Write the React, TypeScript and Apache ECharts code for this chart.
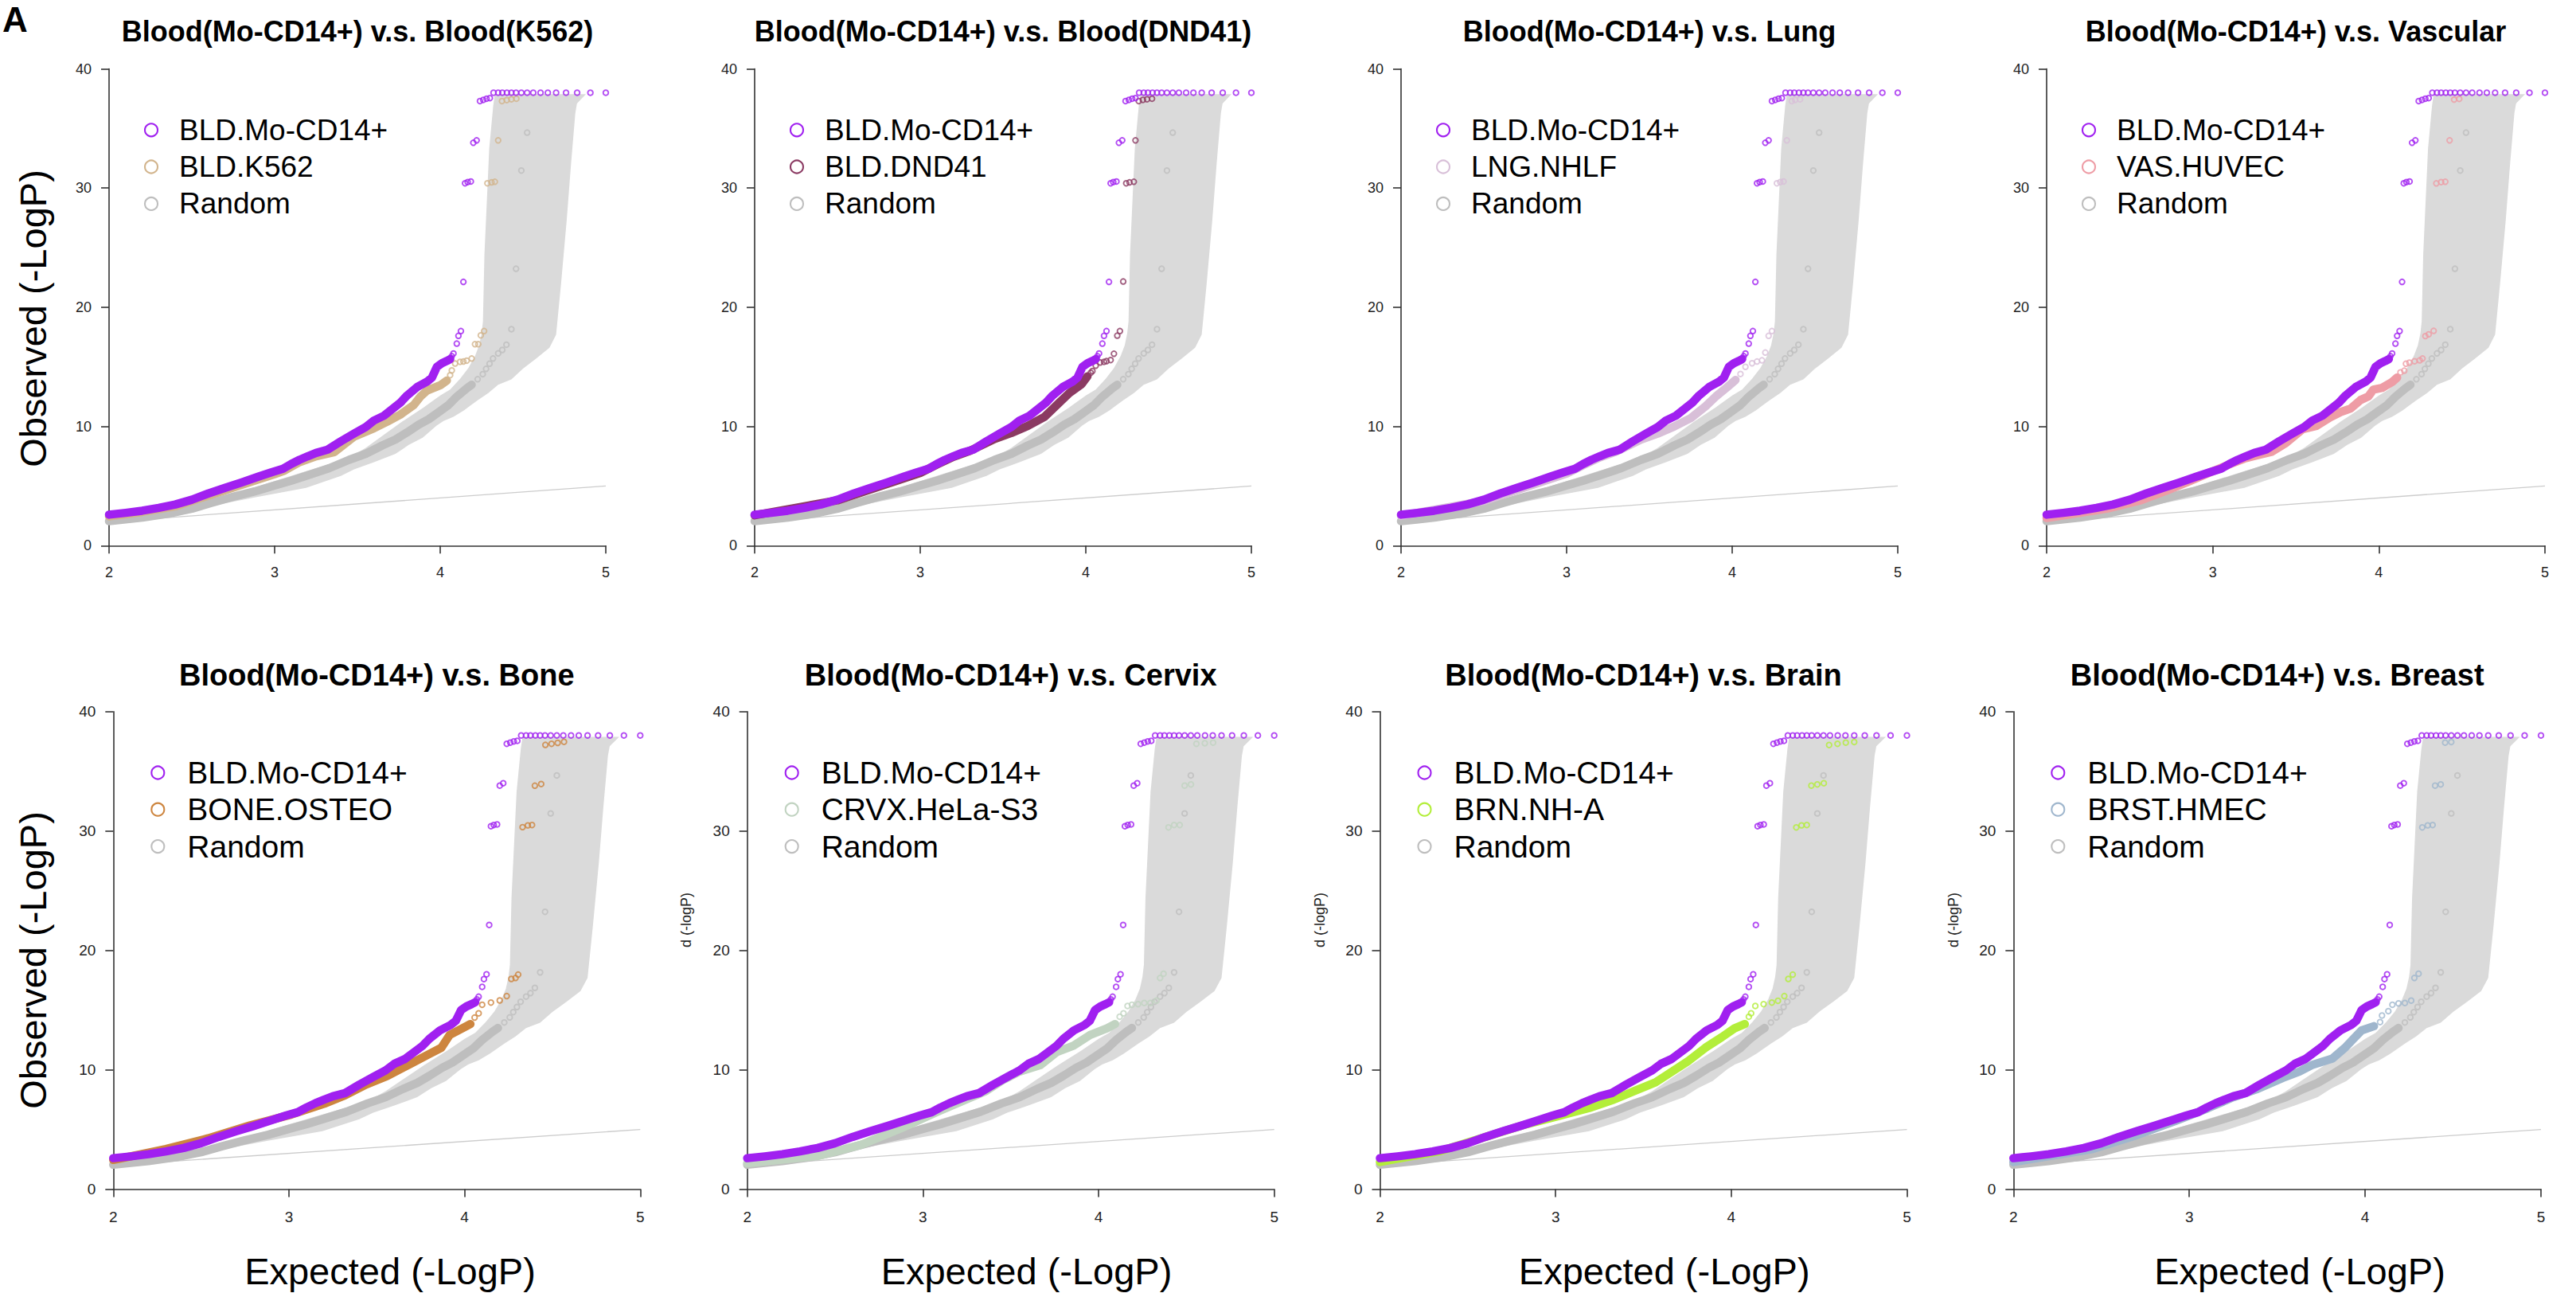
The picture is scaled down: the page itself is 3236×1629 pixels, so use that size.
import React, { useEffect, useRef } from "react";
import * as echarts from "echarts";

type Pt = [number, number];

// ---------- axes ----------
const xAxisRange: Pt = [2, 5];
const yAxisRange: Pt = [0, 40];
const xTickStep = 1;
const yTickStep = 10;

// ---------- shared series ----------
const diagonal: Pt[] = [[2, 2], [5, 5]];

const moCD14Curve: Pt[] = [
  [2.0, 2.6], [2.1, 2.75], [2.2, 2.93], [2.3, 3.17], [2.4, 3.45], [2.5, 3.85], [2.6, 4.38],
  [2.7, 4.85], [2.8, 5.3], [2.9, 5.78], [2.98, 6.15], [3.05, 6.45], [3.1, 6.85], [3.15, 7.2],
  [3.2, 7.5], [3.25, 7.78], [3.32, 8.05], [3.4, 8.75], [3.48, 9.4], [3.55, 9.95], [3.6, 10.5],
  [3.66, 10.9], [3.71, 11.45], [3.76, 12.0], [3.8, 12.6], [3.86, 13.3], [3.92, 13.75],
  [3.95, 14.1], [3.98, 15.0], [4.01, 15.3], [4.04, 15.5], [4.06, 15.65],
];
const moCD14Points: Pt[] = [
  [4.07, 15.9], [4.08, 16.12], [4.1, 16.95], [4.11, 17.6], [4.125, 18.0], [4.14, 22.13],
  [4.15, 30.4], [4.166, 30.5], [4.185, 30.55], [4.2, 33.8], [4.22, 34.0],
  [4.24, 37.3], [4.26, 37.4], [4.28, 37.5], [4.3, 37.55],
  [4.322, 38.0], [4.35, 38.0], [4.375, 38.0], [4.403, 38.0], [4.43, 38.0], [4.458, 38.0],
  [4.49, 38.0], [4.525, 38.0], [4.562, 38.0], [4.606, 38.0], [4.65, 38.0], [4.7, 38.0],
  [4.76, 38.0], [4.827, 38.0], [4.907, 38.0], [5.0, 38.0],
];

const randomCurve: Pt[] = [
  [2.0, 2.05], [2.2, 2.35], [2.36, 2.68], [2.5, 3.1], [2.62, 3.6], [2.75, 4.1], [2.88, 4.55],
  [3.0, 5.05], [3.1, 5.45], [3.2, 5.9], [3.33, 6.5], [3.45, 7.2], [3.55, 7.7], [3.65, 8.4],
  [3.73, 8.9], [3.8, 9.5], [3.87, 10.15], [3.93, 10.6], [4.0, 11.3], [4.05, 11.8], [4.1, 12.5],
  [4.16, 13.2], [4.19, 13.5],
];
const randomPoints: Pt[] = [
  [4.226, 13.96], [4.257, 14.39], [4.277, 14.83], [4.298, 15.26], [4.319, 15.7], [4.35, 16.13],
  [4.375, 16.42], [4.4, 16.86], [4.43, 18.16], [4.458, 23.23], [4.49, 31.47], [4.525, 34.65],
];

// confidence band of the random set: left edge going up, then right edge coming down
const bandLeftEdge: Pt[] = [
  [2.0, 2.15], [2.5, 3.4], [2.88, 4.9], [3.19, 6.25], [3.44, 7.3], [3.55, 8.2], [3.65, 9.2],
  [3.77, 10.4], [3.9, 11.6], [4.0, 12.6], [4.06, 13.1], [4.12, 14.0], [4.17, 14.9], [4.21, 15.9],
  [4.235, 16.8], [4.25, 17.8], [4.258, 18.8], [4.267, 24.4], [4.296, 33.3], [4.32, 36.9],
  [4.33, 37.88], [4.88, 37.88],
];
const bandRightEdge: Pt[] = [
  [4.826, 37.1], [4.816, 36.3], [4.79, 32.0], [4.764, 27.3], [4.73, 22.0], [4.7, 17.7],
  [4.66, 16.6], [4.58, 15.7], [4.5, 14.85], [4.43, 13.95], [4.35, 13.5], [4.29, 12.8],
  [4.226, 12.2], [4.143, 11.35], [4.08, 10.8], [4.02, 10.45], [3.977, 10.05], [3.894, 9.05],
  [3.81, 8.45], [3.73, 7.7], [3.6, 7.0], [3.48, 6.4], [3.4, 5.85], [3.19, 4.85], [2.88, 4.05],
  [2.5, 3.0], [2.0, 1.85],
];

// ---------- comparison series ----------
const k562Curve: Pt[] = [
  [2.0, 2.45], [2.2, 2.83], [2.4, 3.3], [2.6, 4.2], [2.8, 5.1], [3.0, 6.0], [3.06, 6.3],
  [3.15, 7.0], [3.25, 7.5], [3.36, 7.85], [3.42, 8.5], [3.48, 9.15], [3.6, 9.85], [3.68, 10.4],
  [3.76, 11.0], [3.84, 11.8], [3.88, 12.5], [3.92, 13.0], [4.0, 13.45], [4.04, 13.85],
];
const k562Points: Pt[] = [
  [4.06, 14.3], [4.07, 14.7], [4.09, 15.28], [4.12, 15.42], [4.14, 15.45], [4.16, 15.52],
  [4.19, 15.7], [4.21, 16.9], [4.23, 16.9], [4.245, 17.64], [4.265, 18.0], [4.285, 30.4],
  [4.31, 30.48], [4.33, 30.53], [4.35, 34.0], [4.373, 37.3], [4.402, 37.38], [4.43, 37.45],
  [4.46, 37.5],
];

const dnd41Curve: Pt[] = [
  [2.0, 2.55], [2.5, 3.8], [3.0, 6.1], [3.1, 6.8], [3.2, 7.45], [3.3, 7.95], [3.45, 8.95],
  [3.55, 9.45], [3.65, 10.05], [3.75, 10.8], [3.84, 12.0], [3.9, 12.8], [3.975, 13.55],
  [4.01, 14.2],
];
const dnd41Points: Pt[] = [
  [4.03, 14.5], [4.04, 14.65], [4.06, 15.1], [4.087, 15.36], [4.11, 15.42], [4.125, 15.48],
  [4.15, 15.57], [4.17, 16.1], [4.19, 17.62], [4.206, 18.0], [4.226, 22.16], [4.244, 30.4],
  [4.264, 30.48], [4.29, 30.53], [4.3, 34.0], [4.32, 37.3], [4.345, 37.4], [4.37, 37.45],
  [4.4, 37.5],
];

const nhlfCurve: Pt[] = [
  [2.0, 2.5], [2.5, 3.75], [3.0, 6.05], [3.1, 6.75], [3.2, 7.4], [3.3, 7.9], [3.45, 8.9],
  [3.55, 9.4], [3.65, 10.0], [3.75, 10.7], [3.84, 11.7], [3.9, 12.5], [3.97, 13.3], [4.02, 13.9],
];
const nhlfPoints: Pt[] = [
  [4.05, 14.4], [4.08, 15.0], [4.12, 15.3], [4.15, 15.45], [4.18, 15.55], [4.2, 16.2],
  [4.22, 17.6], [4.24, 18.0], [4.27, 30.4], [4.29, 30.5], [4.31, 30.55], [4.33, 34.0],
  [4.36, 37.3], [4.38, 37.4], [4.41, 37.45],
];

const huvecCurve: Pt[] = [
  [2.0, 2.32], [2.155, 2.66], [2.362, 3.1], [2.57, 3.82], [2.735, 4.69], [2.86, 5.41],
  [2.983, 6.14], [3.107, 6.86], [3.19, 7.3], [3.27, 7.59], [3.356, 7.88], [3.44, 8.6],
  [3.54, 9.76], [3.625, 10.05], [3.708, 10.77], [3.77, 11.21], [3.83, 11.5], [3.89, 12.22],
  [3.936, 12.51], [3.967, 13.09], [4.02, 13.24], [4.08, 13.73], [4.11, 14.1],
];
const huvecPoints: Pt[] = [
  [4.13, 14.54], [4.153, 14.68], [4.163, 15.26], [4.184, 15.35], [4.215, 15.47],
  [4.246, 15.55], [4.263, 15.7], [4.28, 17.58], [4.3, 17.73], [4.33, 18.02], [4.346, 30.39],
  [4.375, 30.5], [4.4, 30.53], [4.426, 34.0], [4.453, 37.42], [4.484, 37.48],
];

const osteoCurve: Pt[] = [
  [2.0, 2.45], [2.3, 3.36], [2.54, 4.26], [2.777, 5.34], [3.014, 6.25], [3.2, 7.15],
  [3.32, 7.87], [3.44, 8.77], [3.56, 9.49], [3.678, 10.39], [3.796, 11.3], [3.867, 11.84],
  [3.915, 12.92], [4.01, 13.65], [4.033, 13.83],
];
const osteoPoints: Pt[] = [
  [4.057, 14.37], [4.08, 14.73], [4.1, 15.45], [4.15, 15.63], [4.2, 15.81], [4.24, 16.17],
  [4.266, 17.61], [4.29, 17.69], [4.305, 17.97], [4.33, 30.32], [4.36, 30.47], [4.384, 30.5],
  [4.4, 33.79], [4.436, 33.93], [4.46, 37.21], [4.495, 37.3], [4.53, 37.38], [4.566, 37.47],
];

const helaCurve: Pt[] = [
  [2.0, 2.17], [2.41, 2.81], [2.648, 3.72], [2.885, 5.16], [3.074, 6.43], [3.217, 7.33],
  [3.36, 8.23], [3.454, 9.13], [3.549, 9.85], [3.668, 10.39], [3.762, 11.48], [3.857, 12.02],
  [3.952, 12.92], [4.047, 13.47], [4.094, 13.83],
];
const helaPoints: Pt[] = [
  [4.12, 14.45], [4.142, 14.73], [4.165, 15.35], [4.19, 15.45], [4.225, 15.5], [4.26, 15.6],
  [4.295, 15.6], [4.33, 15.8], [4.35, 17.69], [4.37, 18.05], [4.398, 30.3], [4.43, 30.5],
  [4.462, 30.5], [4.49, 33.8], [4.526, 33.9], [4.557, 37.3], [4.605, 37.35], [4.652, 37.4],
];

const nhaCurve: Pt[] = [
  [2.0, 2.28], [2.338, 3.18], [2.575, 4.26], [2.81, 5.34], [3.0, 6.07], [3.19, 6.79],
  [3.332, 7.51], [3.45, 8.23], [3.569, 8.95], [3.663, 9.85], [3.758, 10.76], [3.852, 11.84],
  [3.947, 12.74], [4.018, 13.47], [4.077, 13.83],
];
const nhaPoints: Pt[] = [
  [4.1, 14.45], [4.113, 14.73], [4.137, 15.35], [4.184, 15.5], [4.231, 15.63], [4.266, 15.78],
  [4.302, 16.17], [4.325, 17.61], [4.35, 17.97], [4.37, 30.3], [4.4, 30.47], [4.43, 30.5],
  [4.456, 33.8], [4.49, 33.9], [4.527, 34.0], [4.557, 37.2], [4.605, 37.3], [4.652, 37.4],
  [4.7, 37.45],
];

const hmecCurve: Pt[] = [
  [2.0, 2.28], [2.448, 3.36], [2.683, 4.44], [2.919, 5.7], [3.107, 6.79], [3.248, 7.69],
  [3.39, 8.41], [3.531, 9.31], [3.626, 9.85], [3.696, 10.39], [3.814, 10.94], [3.885, 11.84],
  [3.932, 12.56], [3.979, 13.29], [4.05, 13.65],
];
const hmecPoints: Pt[] = [
  [4.085, 14.0], [4.096, 14.55], [4.132, 14.91], [4.155, 15.45], [4.19, 15.56], [4.226, 15.6],
  [4.262, 15.8], [4.28, 17.69], [4.304, 18.05], [4.325, 30.3], [4.356, 30.47], [4.384, 30.5],
  [4.398, 33.8], [4.43, 33.9], [4.455, 37.4], [4.49, 37.45],
];

// ---------- labels ----------
const panelTitles = [
  "Blood(Mo-CD14+) v.s. Blood(K562)",
  "Blood(Mo-CD14+) v.s. Blood(DND41)",
  "Blood(Mo-CD14+) v.s. Lung",
  "Blood(Mo-CD14+) v.s. Vascular",
  "Blood(Mo-CD14+) v.s. Bone",
  "Blood(Mo-CD14+) v.s. Cervix",
  "Blood(Mo-CD14+) v.s. Brain",
  "Blood(Mo-CD14+) v.s. Breast",
];
const referenceName = "BLD.Mo-CD14+";
const randomName = "Random";
const comparisonNames = [
  "BLD.K562", "BLD.DND41", "LNG.NHLF", "VAS.HUVEC",
  "BONE.OSTEO", "CRVX.HeLa-S3", "BRN.NH-A", "BRST.HMEC",
];
const comparisonCurves = [k562Curve, dnd41Curve, nhlfCurve, huvecCurve, osteoCurve, helaCurve, nhaCurve, hmecCurve];
const comparisonPoints = [k562Points, dnd41Points, nhlfPoints, huvecPoints, osteoPoints, helaPoints, nhaPoints, hmecPoints];
const yAxisTitle = "Observed (-LogP)";
const xAxisTitle = "Expected (-LogP)";
const clippedYAxisTitle = "d (-logP)";
const panelLetter = "A";

// ---------- styles ----------
const FONT = "'Liberation Sans', Arial, Helvetica, sans-serif";
const REF_COLOR = "#A020F0";
const RANDOM_COLOR = "#BEBEBE";
const BAND_COLOR = "#DADADA";
const DIAG_COLOR = "#CCCCCC";
const AXIS_COLOR = "#333333";
const comparisonColors = ["#D2B48C", "#8B3A62", "#D8BFD8", "#EE9CA5", "#CD853F", "#C1D3C1", "#B3EE3A", "#9FB6CD"];

// ---------- layout (pixels) ----------
const TOP_ROW = { top: 86.5, height: 598.8, width: [624, 624, 624, 626], left: [137, 948, 1760, 2571] };
const BOT_ROW = { top: 893.7, height: 599.9, width: [662, 662, 662, 662.7], left: [142.3, 938.7, 1733.5, 2529.3] };

function buildOption() {
  const grid: any[] = [];
  const xAxis: any[] = [];
  const yAxis: any[] = [];
  const series: any[] = [];
  const graphic: any[] = [];
  const bandPolygon = [...bandLeftEdge, ...bandRightEdge];

  for (let i = 0; i < 8; i++) {
    const top = i < 4;
    const row = top ? TOP_ROW : BOT_ROW;
    const c = i % 4;
    const left = row.left[c];
    const width = row.width[c];
    const gTop = row.top;
    const height = row.height;
    const tickFont = top ? 18 : 19;
    const titleFont = top ? 36 : 38;
    const legendFont = top ? 37 : 39;

    grid.push({ left, top: gTop, width, height, containLabel: false });
    xAxis.push({
      type: "value", gridIndex: i, min: xAxisRange[0], max: xAxisRange[1], interval: xTickStep,
      axisLine: { show: true, onZero: false, lineStyle: { color: AXIS_COLOR, width: 1.6 } },
      axisTick: { show: true, inside: false, length: 10, lineStyle: { color: AXIS_COLOR, width: 1.6 } },
      axisLabel: { show: true, margin: 25, fontSize: tickFont, color: "#222", fontFamily: FONT, showMinLabel: true, showMaxLabel: true },
      splitLine: { show: false },
    });
    yAxis.push({
      type: "value", gridIndex: i, min: yAxisRange[0], max: yAxisRange[1], interval: yTickStep,
      axisLine: { show: true, onZero: false, lineStyle: { color: AXIS_COLOR, width: 1.6 } },
      axisTick: { show: true, inside: false, length: 10, lineStyle: { color: AXIS_COLOR, width: 1.6 } },
      axisLabel: { show: true, margin: 22, fontSize: tickFont, color: "#222", fontFamily: FONT, showMinLabel: true, showMaxLabel: true },
      splitLine: { show: false },
    });

    const ax = { xAxisIndex: i, yAxisIndex: i };
    series.push({
      type: "custom", ...ax, silent: true, z: 1, data: [[xAxisRange[0], yAxisRange[0]]],
      renderItem: (_p: any, api: any) => ({
        type: "polygon",
        shape: { points: bandPolygon.map((pt) => api.coord(pt)) },
        style: { fill: BAND_COLOR },
      }),
    });
    series.push({
      type: "line", ...ax, silent: true, z: 2, data: diagonal, symbol: "none",
      lineStyle: { color: DIAG_COLOR, width: 1.3 },
    });
    const addSet = (name: string, color: string, curve: Pt[], pts: Pt[], z: number) => {
      series.push({
        type: "line", name, ...ax, z, data: curve, symbol: "none", silent: true,
        itemStyle: { color },
        lineStyle: { color, width: 10.5, cap: "round", join: "round" },
      });
      series.push({
        type: "scatter", name, ...ax, z, data: pts, symbol: "circle", symbolSize: 6.5, silent: true,
        itemStyle: { color: "rgba(0,0,0,0)", borderColor: color, borderWidth: 1.9 },
      });
    };
    addSet(randomName, RANDOM_COLOR, randomCurve, randomPoints, 3);
    addSet(comparisonNames[i], comparisonColors[i], comparisonCurves[i], comparisonPoints[i], 4);
    addSet(referenceName, REF_COLOR, moCD14Curve, moCD14Points, 5);

    // title
    graphic.push({
      type: "text", x: left + width / 2, y: top ? 39.5 : 847.7, silent: true,
      style: { text: panelTitles[i], fontSize: titleFont, fontWeight: "bold", fontFamily: FONT, fill: "#000", align: "center", verticalAlign: "middle" },
    });

    // legend
    const circleDx = top ? 53 : 56;
    const textDx = top ? 88 : 93;
    const rows: [string, string][] = [
      [referenceName, REF_COLOR],
      [comparisonNames[i], comparisonColors[i]],
      [randomName, RANDOM_COLOR],
    ];
    const rowDy = [76.8, 123.0, 169.4];
    rows.forEach(([name, color], k) => {
      const cy = gTop + rowDy[k];
      graphic.push({
        type: "circle", silent: true, shape: { cx: left + circleDx, cy, r: 8 },
        style: { fill: "none", stroke: color, lineWidth: 2.1 },
      });
      graphic.push({
        type: "text", x: left + textDx, y: cy, silent: true,
        style: { text: name, fontSize: legendFont, fontFamily: FONT, fill: "#000", align: "left", verticalAlign: "middle" },
      });
    });

    // axis titles
    if (i === 0 || i === 4) {
      graphic.push({
        type: "text", x: 41, y: top ? 400 : 1206, rotation: Math.PI / 2, silent: true,
        style: { text: yAxisTitle, fontSize: 47, fontFamily: FONT, fill: "#000", align: "center", verticalAlign: "middle" },
      });
    }
    if (!top) {
      const cx = [490, 1289.5, 2090.7, 2889][c];
      graphic.push({
        type: "text", x: cx, y: 1596, silent: true,
        style: { text: xAxisTitle, fontSize: 47, fontFamily: FONT, fill: "#000", align: "center", verticalAlign: "middle" },
      });
      if (c > 0) {
        const sx = [0, 862, 1658, 2454][c];
        graphic.push({
          type: "text", x: sx, y: 1121, rotation: Math.PI / 2, silent: true,
          style: { text: clippedYAxisTitle, fontSize: 18, fontFamily: FONT, fill: "#222", align: "right", verticalAlign: "middle" },
        });
      }
    }
  }

  graphic.push({
    type: "text", x: 3, y: 24, silent: true,
    style: { text: panelLetter, fontSize: 44, fontWeight: "bold", fontFamily: FONT, fill: "#000", align: "left", verticalAlign: "middle" },
  });

  return {
    animation: false,
    backgroundColor: "#ffffff",
    grid, xAxis, yAxis, series, graphic,
  };
}

export default function App() {
  const ref = useRef<HTMLDivElement>(null);
  useEffect(() => {
    if (!ref.current) return;
    const chart = echarts.init(ref.current, null, { renderer: "svg" });
    chart.setOption(buildOption() as any);
    return () => chart.dispose();
  }, []);
  return (
    <div
      ref={ref}
      style={{ position: "fixed", left: 0, top: 0, width: 3236, height: 1629, background: "#fff" }}
    />
  );
}
